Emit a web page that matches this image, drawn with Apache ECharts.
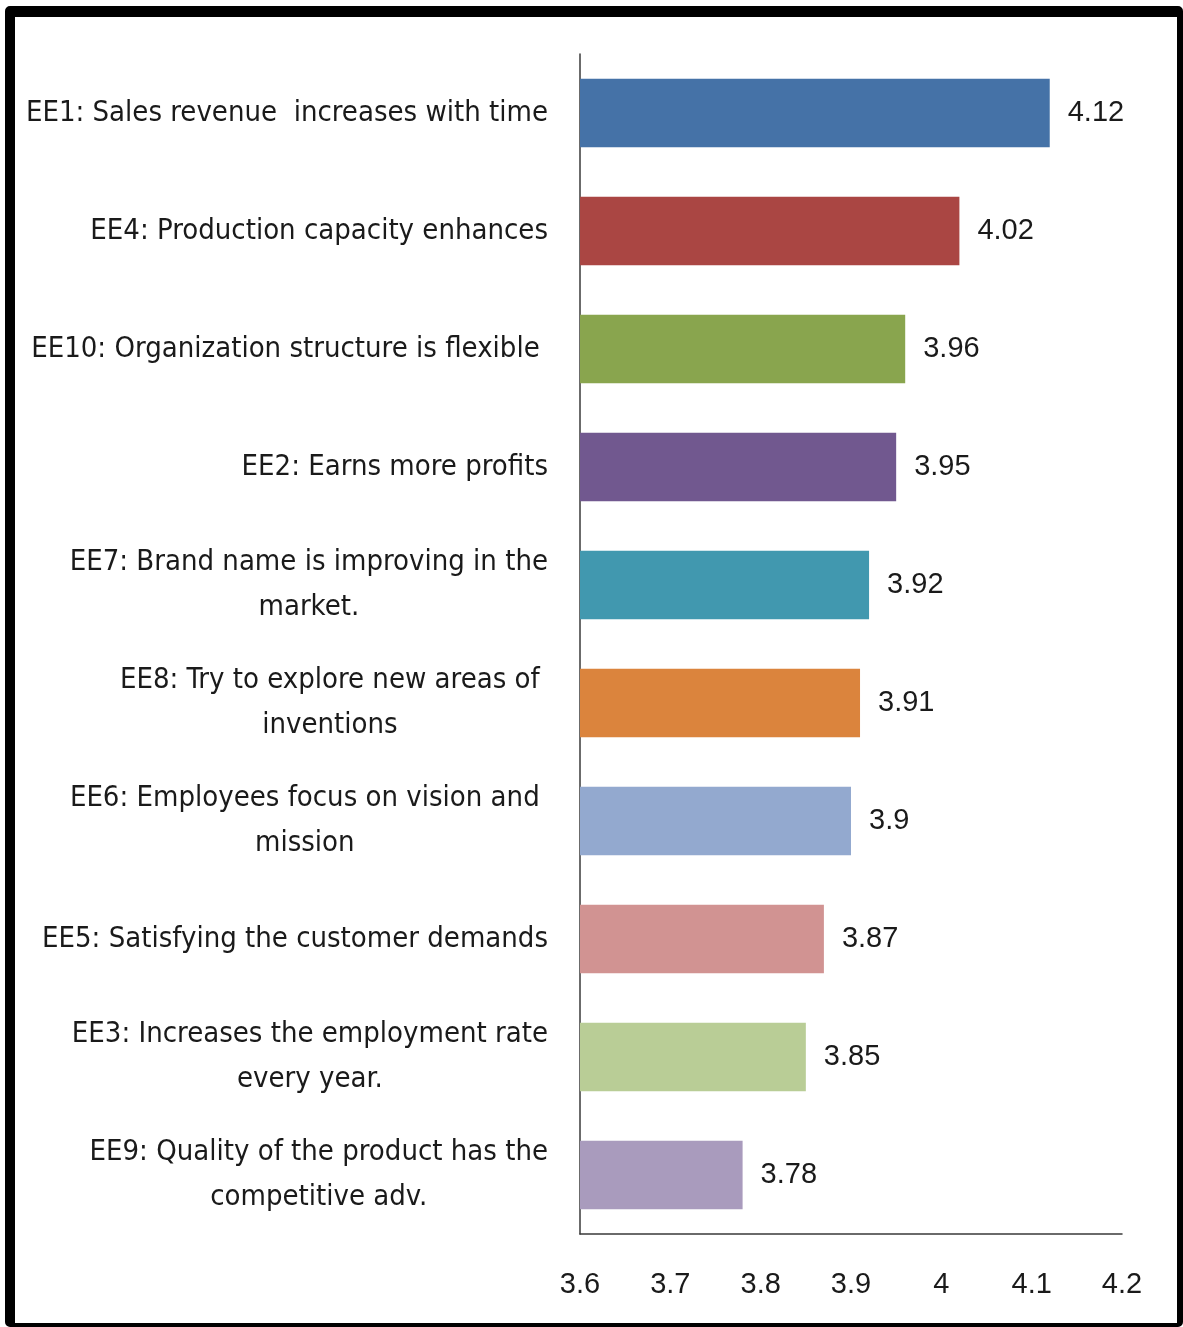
<!DOCTYPE html>
<html>
<head>
<meta charset="utf-8">
<script src="https://cdn.jsdelivr.net/npm/echarts@6/dist/echarts.min.js"></script>
<style>
  html, body { margin: 0; padding: 0; background: #fff; }
  #chart { position: absolute; left: 0; top: 0; width: 1183px; height: 1327px; }
  #frame {
    position: absolute; left: 5px; top: 6px; width: 1178px; height: 1321px;
    box-sizing: border-box; border-style: solid; border-color: #000;
    border-width: 11px 6px 4px 10px; border-radius: 5px; pointer-events: none;
  }
</style>
</head>
<body>
<div id="chart"></div>
<div id="frame"></div>
<script>
// Mean scores of the entrepreneurial-effect statements, highest first
const categories = [
  'EE1: Sales revenue  increases with time',
  'EE4: Production capacity enhances',
  'EE10: Organization structure is flexible ',
  'EE2: Earns more profits',
  'EE7: Brand name is improving in the\nmarket.',
  'EE8: Try to explore new areas of \ninventions ',
  'EE6: Employees focus on vision and \nmission ',
  'EE5: Satisfying the customer demands',
  'EE3: Increases the employment rate\nevery year.',
  'EE9: Quality of the product has the\ncompetitive adv.'
];
const scores = [4.12, 4.02, 3.96, 3.95, 3.92, 3.91, 3.9, 3.87, 3.85, 3.78];
const barColors = ['#4572A7', '#AA4643', '#89A54E', '#71588F', '#4198AF',
                   '#DB843D', '#93A9CF', '#D19392', '#B9CD96', '#A99BBD'];
const xTicks = { min: 3.6, max: 4.2, step: 0.1 };

const labelFont = '"Liberation Sans Narrow", "DejaVu Sans Condensed", "Liberation Sans", sans-serif';
const numFont = '"Liberation Sans", Arial, sans-serif';

const chart = echarts.init(document.getElementById('chart'), null, { renderer: 'canvas' });
chart.setOption({
  animation: false,
  backgroundColor: '#fff',
  grid: { left: 580, right: 61, top: 54, bottom: 93, containLabel: false, outerBoundsMode: 'none' },
  xAxis: {
    type: 'value',
    min: xTicks.min, max: xTicks.max, interval: xTicks.step,
    axisLine: { show: true, lineStyle: { color: '#3a3a3a', width: 1.5 } },
    axisTick: { show: false },
    splitLine: { show: false },
    axisLabel: {
      margin: 36, color: '#1a1a1a', fontSize: 29, fontFamily: numFont,
      formatter: v => String(Math.round(v * 10) / 10)
    }
  },
  yAxis: {
    type: 'category',
    inverse: true,
    data: categories,
    axisLine: { show: true, lineStyle: { color: '#3a3a3a', width: 1.5 } },
    axisTick: { show: false },
    axisLabel: {
      margin: 32, align: 'right',
      formatter: v => v.split('\n').map(l => '{c|' + l + '}').join('\n'),
      rich: {
        c: { align: 'center', fontSize: 29, lineHeight: 45, color: '#1a1a1a', fontFamily: labelFont }
      }
    }
  },
  series: [{
    type: 'bar',
    data: scores.map((v, i) => ({ value: v, itemStyle: { color: barColors[i] } })),
    barCategoryGap: '42%',
    label: {
      show: true, position: 'right', distance: 18,
      color: '#1a1a1a', fontSize: 29, fontFamily: numFont
    }
  }]
});
</script>
</body>
</html>
